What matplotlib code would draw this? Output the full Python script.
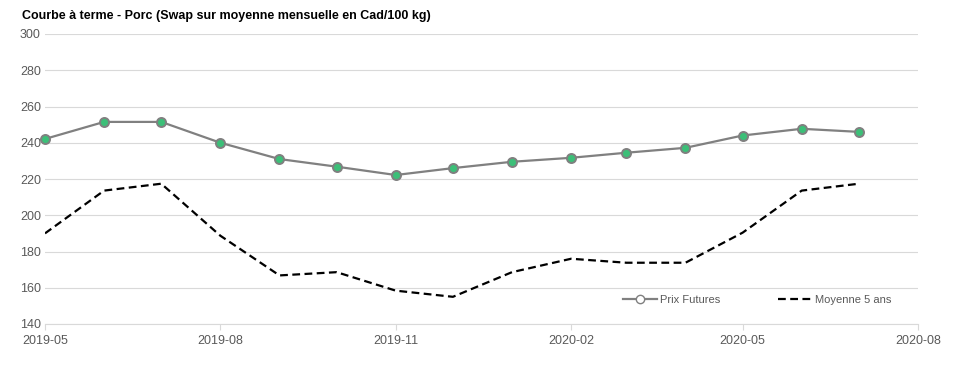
import numpy as np
import pandas as pd
import matplotlib
matplotlib.use('Agg')
import matplotlib.pyplot as plt
import matplotlib.dates as mdates

plt.rcParams['font.family'] = ['Liberation Sans', 'DejaVu Sans']

mois = pd.date_range('2019-05-01', '2020-07-01', freq='MS')
prix_futures = [242.1, 251.5, 251.5, 240.0, 231.0, 226.8, 222.2, 226.0, 229.5,
                231.7, 234.5, 237.2, 244.0, 247.7, 246.0]
moyenne_5ans = [190.0, 213.6, 217.4, 188.7, 166.8, 168.6, 158.4, 155.0, 168.6,
                176.0, 173.8, 173.8, 190.4, 213.6, 217.4]
y_ticks = [140, 160, 180, 200, 220, 240, 260, 280, 300]

fig = plt.figure(figsize=(9.68, 3.74), dpi=100)
ax = fig.add_axes([45 / 968, 50 / 374, 873 / 968, 290 / 374])

ax.plot(mois, prix_futures, color='#808080', lw=1.6, marker='o', ms=6.5,
        markerfacecolor='#3cbf78', markeredgecolor='#808080', markeredgewidth=1.4,
        label='Prix Futures', zorder=3, clip_on=False)
ax.plot(mois, moyenne_5ans, color='black', lw=1.6, ls=(0, (3.5, 2)),
        label='Moyenne 5 ans', zorder=3)

ax.set_xlim(pd.Timestamp('2019-05-01'), pd.Timestamp('2020-08-01'))
ax.set_ylim(140, 300)
ax.set_yticks(y_ticks)
ax.xaxis.set_major_locator(mdates.MonthLocator(bymonth=[2, 5, 8, 11]))
ax.xaxis.set_major_formatter(mdates.DateFormatter('%Y-%m'))

ax.grid(axis='y', color='#d9d9d9', lw=0.8)
for s in ['top', 'right', 'left']:
    ax.spines[s].set_visible(False)
ax.spines['bottom'].set_color('#d9d9d9')
ax.tick_params(axis='y', length=0, labelsize=9, labelcolor='#595959', pad=3)
ax.tick_params(axis='x', length=4, color='#d9d9d9', labelsize=9,
               labelcolor='#595959', pad=4)

h1 = plt.Line2D([], [], color='#808080', lw=1.6, marker='o', ms=6,
                markerfacecolor='white', markeredgecolor='#808080')
h2 = plt.Line2D([], [], color='black', lw=1.6, ls=(0, (3.5, 2)))
leg = ax.legend([h1, h2], ['Prix Futures', 'Moyenne 5 ans'], ncol=2,
                frameon=False, loc='lower left', bbox_to_anchor=(0.651, 0.03),
                fontsize=8, handlelength=3, handletextpad=0.3, columnspacing=5.2)
for t in leg.get_texts():
    t.set_color('#595959')

fig.text(22 / 968, 1 - 16 / 374, 'Courbe à terme - Porc (Swap sur moyenne mensuelle en Cad/100 kg)',
         fontsize=9, fontweight='bold', va='center', ha='left')

fig.savefig('out.png', dpi=100)
